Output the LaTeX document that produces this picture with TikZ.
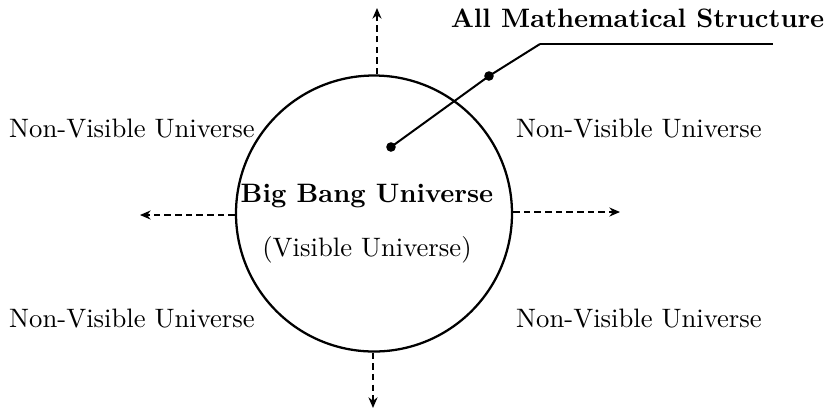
\documentclass[tikz,border=0pt]{standalone}
\usetikzlibrary{arrows.meta}
\begin{document}
\begin{tikzpicture}[x=0.375pt,y=-0.375pt,
  lbl/.style={inner sep=0pt,anchor=base},
  dasharrow/.style={dash pattern=on 2.4pt off 1.6pt,line width=0.55pt,-{Stealth[length=4pt,width=3.4pt]}},
  dotmark/.style={circle,fill=black,inner sep=0pt,minimum size=3.6pt}]
\useasboundingbox (0,0) rectangle (824,413);
\node[circle,draw,line width=0.85pt,minimum size=103.5pt,inner sep=0pt] (bb) at (374,213.5) {};
\coordinate (tU) at (377,8);
\coordinate (tD) at (373,408);
\coordinate (tL) at (140,215);
\coordinate (tR) at (620,212);
\draw[dasharrow] (bb.north -| tU) -- (tU);
\draw[dasharrow] (bb.south -| tD) -- (tD);
\draw[dasharrow] (bb.west |- tL) -- (tL);
\draw[dasharrow] (bb.east |- tR) -- (tR);
\node[lbl] (nvul) at (132,137) {Non-Visible Universe};
\node[lbl] (nvur) at (639,137) {Non-Visible Universe};
\node[lbl] (nvll) at (132,327) {Non-Visible Universe};
\node[lbl] (nvlr) at (639,327) {Non-Visible Universe};
\node[lbl] (big) at (367,202) {\textbf{Big Bang Universe}};
\node[lbl] (vis) at (367,256) {(Visible Universe)};
\node[lbl] (ams) at (637.5,27.5) {\textbf{All Mathematical Structure}};
\node[dotmark] (d1) at (391,147) {};
\node[dotmark] (d2) at (489,76) {};
\coordinate (k) at (540,44);
\coordinate (e) at (773,44);
\draw[line width=0.75pt] (d1.center) -- (d2.center) -- (k);
\draw[line width=1.1pt] (k) -- (e);
\end{tikzpicture}
\end{document}
